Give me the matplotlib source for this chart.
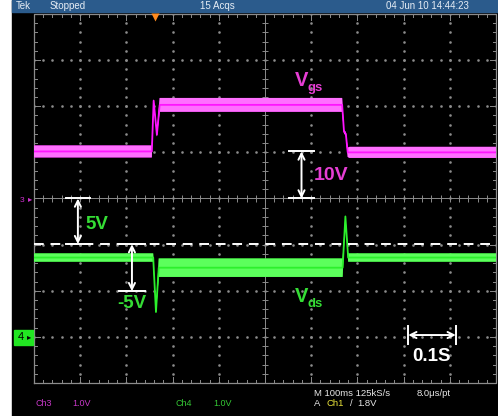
import numpy as np
import matplotlib.pyplot as plt
from matplotlib.patches import Rectangle

plt.rcParams['font.family'] = ['Liberation Sans', 'DejaVu Sans']
plt.rcParams['hatch.linewidth'] = 1.0

W, H = 498, 416

##### ch3 (Vgs) trace: time / level / band half-width, in screen divisions
vgs_t = [-5.0, -2.45, -2.41, -2.34, -2.28, 1.67, 1.71, 1.75, 1.79, 1.83, 5.0]
vgs_v = [1.02, 1.02, 2.12, 1.38, 2.03, 2.03, 1.45, 1.40, 1.00, 1.00, 1.00]
vgs_w = [0.13, 0.13, 0.04, 0.04, 0.15, 0.15, 0.04, 0.04, 0.10, 0.12, 0.12]

##### ch4 (Vds) trace
vds_t = [-5.0, -2.42, -2.36, -2.30, -2.26, 1.68, 1.74, 1.80, 5.0]
vds_v = [-1.28, -1.28, -2.46, -1.50, -1.50, -1.50, -0.39, -1.28, -1.28]
vds_w = [0.09, 0.09, 0.03, 0.20, 0.20, 0.20, 0.03, 0.09, 0.09]

ref_level = -0.99      # dashed reference line
ch3_ground = 0.0
ch4_ground = -3.0
trig_pos = -2.38

header = ['Tek', 'Stopped', '15 Acqs', '04 Jun 10 14:44:23']
header_x = [16, 50, 200, 386]

magenta = '#ff14ff'
green = '#2cf02c'
lab_mag = '#e63ed4'
lab_green = '#35dd35'
grid_c = '#8c8c8c'


def fx(px):
    return px / W


def fy(py):
    return 1 - py / H


fig = plt.figure(figsize=(W / 100, H / 100), dpi=100, facecolor='white')
fig.patches.append(Rectangle((fx(12), 0), 1 - fx(12), 1, transform=fig.transFigure,
                             color='black', zorder=-2))
fig.patches.append(Rectangle((fx(12), fy(12)), 1 - fx(12), 12 / H, transform=fig.transFigure,
                             color='#2b5b8c', zorder=-1))

ax = fig.add_axes([fx(34), fy(383), (496 - 34) / W, (383 - 14) / H])
ax.set_zorder(2)
ax.set_facecolor('black')
ax.set_xlim(-5, 5)
ax.set_ylim(-4, 4)
ax.axis('off')
ax.add_patch(Rectangle((-5, -4), 10, 8, color='black', zorder=0))

######## graticule
sub_x = np.arange(-5, 5.001, 0.2)
sub_y = np.arange(-4, 4.001, 0.2)
for gx in range(-4, 5):
    if gx != 0:
        ax.plot(np.full(len(sub_y), gx), sub_y, ls='none', marker='s', ms=0.8,
                color=grid_c, zorder=1)
for gy in range(-3, 4):
    if gy != 0:
        ax.plot(sub_x, np.full(len(sub_x), gy), ls='none', marker='s', ms=0.8,
                color=grid_c, zorder=1)

# centre cross with minor ticks
ax.axhline(0, color=grid_c, lw=0.7, zorder=1)
ax.axvline(0, color=grid_c, lw=0.7, zorder=1)
ax.vlines(sub_x, -0.07, 0.07, color=grid_c, lw=0.7, zorder=1)
ax.hlines(sub_y, -0.07, 0.07, color=grid_c, lw=0.7, zorder=1)

# frame with inward ticks
ax.plot([-5, 5, 5, -5, -5], [-4, -4, 4, 4, -4], color=grid_c, lw=0.9, clip_on=False, zorder=1)
for x in sub_x:
    L = 0.13 if abs(x - round(x)) < 1e-6 else 0.07
    ax.plot([x, x], [4, 4 - L], color=grid_c, lw=0.7, zorder=1)
    ax.plot([x, x], [-4, -4 + L], color=grid_c, lw=0.7, zorder=1)
for y in sub_y:
    L = 0.13 if abs(y - round(y)) < 1e-6 else 0.07
    ax.plot([-5, -5 + L], [y, y], color=grid_c, lw=0.7, zorder=1)
    ax.plot([5, 5 - L], [y, y], color=grid_c, lw=0.7, zorder=1)

######## traces (noise band drawn as a hatched envelope)
v = np.array(vgs_v)
w = np.array(vgs_w)
ax.fill_between(vgs_t, v - w, v + w, facecolor='#d000d0', edgecolor='#ff70ff',
                hatch='|' * 24, lw=0, zorder=3)
ax.plot(vgs_t, vgs_v, color=magenta, lw=1.3, zorder=4)

v = np.array(vds_v)
w = np.array(vds_w)
ax.fill_between(vds_t, v - w, v + w, facecolor='#18c018', edgecolor='#5cff5c',
                hatch='|' * 24, lw=0, zorder=3)
ax.plot(vds_t, vds_v, color=green, lw=1.3, zorder=4)

ax.axhline(ref_level, color='white', lw=1.4, ls=(0, (5, 3.5)), zorder=5)

# trigger position marker
ax.plot([trig_pos], [3.93], marker='v', ms=6, color='#ff8a1e', mec='none',
        clip_on=False, zorder=6)

######## measurement arrows
def varrow(x, y0, y1, half):
    ax.annotate('', xy=(x, y0), xytext=(x, y1),
                arrowprops=dict(arrowstyle='<->', color='white', lw=1.4,
                                shrinkA=0, shrinkB=0, mutation_scale=11), zorder=7)
    ax.plot([x - half, x + half], [y0, y0], color='white', lw=1.4, zorder=7)
    ax.plot([x - half, x + half], [y1, y1], color='white', lw=1.4, zorder=7)


varrow(0.79, vgs_v[0], ch3_ground, 0.26)
varrow(-4.05, ch3_ground, ref_level, 0.26)
varrow(-2.88, ref_level, -2.01, 0.28)

ax.annotate('', xy=(3.10, -2.96), xytext=(4.13, -2.96),
            arrowprops=dict(arrowstyle='<->', color='white', lw=1.4,
                            shrinkA=0, shrinkB=0, mutation_scale=11), zorder=7)
ax.plot([3.10, 3.10], [-3.15, -2.77], color='white', lw=1.4, zorder=7)
ax.plot([4.13, 4.13], [-3.15, -2.77], color='white', lw=1.4, zorder=7)

bold = dict(fontweight='bold', zorder=8)
ax.text(1.43, 0.50, '10V', color=lab_mag, fontsize=14, ha='center', va='center', **bold)
ax.text(-3.64, -0.56, '5V', color=lab_green, fontsize=13.5, ha='center', va='center', **bold)
ax.text(-2.88, -2.27, '-5V', color=lab_green, fontsize=13.5, ha='center', va='center', **bold)
ax.text(3.61, -3.42, '0.1S', color='white', fontsize=13.5, ha='center', va='center', **bold)

ax.text(0.65, 2.56, 'V', color=lab_mag, fontsize=14.5, ha='left', va='center', **bold)
ax.text(0.93, 2.40, 'gs', color=lab_mag, fontsize=9.5, ha='left', va='center', **bold)
ax.text(0.65, -2.12, 'V', color=lab_green, fontsize=14.5, ha='left', va='center', **bold)
ax.text(0.93, -2.28, 'ds', color=lab_green, fontsize=9.5, ha='left', va='center', **bold)

######## channel ground markers on the left edge
fig.text(fx(22), fy(200), '3', color='#d030d0', fontsize=6, ha='center', va='center')
fig.text(fx(30), fy(200), '\u25b8', color='#d030d0', fontsize=6, ha='center', va='center')
fig.patches.append(Rectangle((fx(14), fy(345)), 19 / W, 15 / H, transform=fig.transFigure,
                             color='#22e622', zorder=3))
fig.text(fx(21), fy(337.5), '4', color='black', fontsize=8, ha='center', va='center', zorder=4)
fig.text(fx(29), fy(337.5), '\u25b8', color='black', fontsize=6, ha='center', va='center', zorder=4)

######## status text
for s, px in zip(header, header_x):
    fig.text(fx(px), fy(6), s, color='#e6edf5', fontsize=7, ha='left', va='center', zorder=3)

fig.text(fx(35), fy(404), 'Ch3', color='#c838c8', fontsize=6.5, va='center')
fig.text(fx(72), fy(404), '1.0V', color='#c838c8', fontsize=6.5, va='center')
fig.text(fx(175), fy(404), 'Ch4', color='#34c834', fontsize=6.5, va='center')
fig.text(fx(213), fy(404), '1.0V', color='#34c834', fontsize=6.5, va='center')
fig.text(fx(314), fy(394), 'M 100ms 125kS/s', color='#e6e6e6', fontsize=6.8, va='center')
fig.text(fx(417), fy(394), '8.0\u03bcs/pt', color='#e6e6e6', fontsize=6.8, va='center')
fig.text(fx(314), fy(404), 'A', color='#e6e6e6', fontsize=6.8, va='center')
fig.text(fx(326), fy(404), 'Ch1', color='#e6e03a', fontsize=6.8, va='center')
fig.text(fx(350), fy(404), '/', color='#e6e6e6', fontsize=6.8, va='center')
fig.text(fx(357), fy(404), '1.8V', color='#e6e6e6', fontsize=6.8, va='center')

fig.savefig('out.png', dpi=100, facecolor=fig.get_facecolor())
